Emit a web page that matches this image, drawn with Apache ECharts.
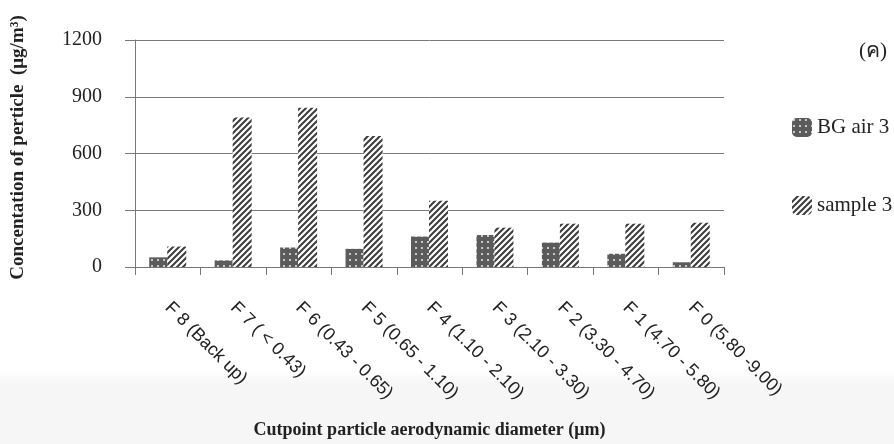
<!DOCTYPE html>
<html>
<head>
<meta charset="utf-8">
<script src="https://cdn.jsdelivr.net/npm/echarts@6/dist/echarts.min.js"></script>
<style>
  html, body { margin: 0; padding: 0; }
  body { background: linear-gradient(to bottom, #ffffff 0px, #ffffff 370px, #f6f6f6 385px, #f6f6f6 444px); }
  #chart { width: 894px; height: 444px; }
</style>
</head>
<body>
<div id="chart"></div>
<script>
  // 横轴分类
  var categories = ['F 8 (Back up)', 'F 7 ( < 0.43)', 'F 6 (0.43 - 0.65)', 'F 5 (0.65 - 1.10)',
    'F 4 (1.10 - 2.10)', 'F 3 (2.10 - 3.30)', 'F 2 (3.30 - 4.70)', 'F 1 (4.70 - 5.80)', 'F 0 (5.80 -9.00)']
  // 纵轴值
  var bgAir3 = [51, 35, 103, 96, 161, 169, 129, 70, 25]
  var sample3 = [108, 790, 842, 693, 350, 208, 229, 229, 234]
  var seriesNames = ['BG air 3', 'sample 3']
  var yTicks = [0, 300, 600, 900, 1200]

  // 点状填充
  function dotPattern () {
    var c = document.createElement('canvas')
    c.width = 6
    c.height = 6
    var ctx = c.getContext('2d')
    ctx.fillStyle = '#5b5b5b'
    ctx.fillRect(0, 0, 6, 6)
    ctx.fillStyle = '#c8c8c8'
    ctx.fillRect(1, 1, 2, 2)
    return c
  }
  // 斜线填充
  function hatchPattern () {
    var c = document.createElement('canvas')
    c.width = 6
    c.height = 6
    var ctx = c.getContext('2d')
    ctx.fillStyle = '#ffffff'
    ctx.fillRect(0, 0, 6, 6)
    ctx.strokeStyle = '#3c3c3c'
    ctx.lineWidth = 2
    ctx.beginPath()
    ctx.moveTo(-1, 7); ctx.lineTo(7, -1)
    ctx.moveTo(-4, 4); ctx.lineTo(4, -4)
    ctx.moveTo(2, 10); ctx.lineTo(10, 2)
    ctx.stroke()
    return c
  }

  var myChart = echarts.init(document.getElementById('chart'), null, { renderer: 'canvas' })
  var serif = '"Liberation Serif", "Times New Roman", serif'
  var option = {
    animation: false,
    title: {
      text: '(ค)',
      right: 2,
      top: 36,
      textStyle: { fontFamily: serif, fontWeight: 'normal', fontSize: 21, color: '#222' }
    },
    legend: {
      orient: 'vertical',
      left: 787,
      top: 112,
      itemWidth: 20,
      itemHeight: 19,
      itemGap: 57,
      data: seriesNames,
      textStyle: { fontFamily: serif, fontSize: 21, color: '#222' }
    },
    grid: { left: 135, right: 170, top: 40, bottom: 175 },
    xAxis: {
      type: 'category',
      data: categories,
      name: 'Cutpoint particle aerodynamic diameter (μm)',
      nameLocation: 'middle',
      nameGap: 154,
      nameTextStyle: { fontFamily: serif, fontWeight: 'bold', fontSize: 18, color: '#222', verticalAlign: 'top' },
      axisLine: { lineStyle: { color: '#777' } },
      axisTick: { show: true, length: 8, lineStyle: { color: '#777' } },
      axisLabel: {
        interval: 0,
        rotate: -45,
        margin: 38,
        fontFamily: '"Liberation Sans", Arial, sans-serif',
        fontSize: 18,
        color: '#222'
      }
    },
    yAxis: {
      type: 'value',
      min: yTicks[0],
      max: yTicks[yTicks.length - 1],
      interval: 300,
      name: 'Concentation of perticle  (μg/m³)',
      nameLocation: 'middle',
      nameGap: 107,
      nameTextStyle: { fontFamily: serif, fontWeight: 'bold', fontSize: 19, color: '#222', padding: [0, 0, 0, 12] },
      axisLine: { show: true, lineStyle: { color: '#777' } },
      axisTick: { show: true, inside: false, length: 10, lineStyle: { color: '#777' } },
      axisLabel: {
        margin: 33,
        fontFamily: serif,
        fontSize: 20,
        color: '#222',
        formatter: function (v) { return String(v) }
      },
      splitLine: { show: true, lineStyle: { color: '#7a7a7a' } }
    },
    series: [{
      name: seriesNames[0],
      type: 'bar',
      barWidth: 18,
      barGap: '0%',
      itemStyle: { color: { image: dotPattern(), repeat: 'repeat' } },
      data: bgAir3
    }, {
      name: seriesNames[1],
      type: 'bar',
      barWidth: 19,
      barGap: '0%',
      itemStyle: { color: { image: hatchPattern(), repeat: 'repeat' } },
      data: sample3
    }]
  }
  myChart.setOption(option)
</script>
</body>
</html>
